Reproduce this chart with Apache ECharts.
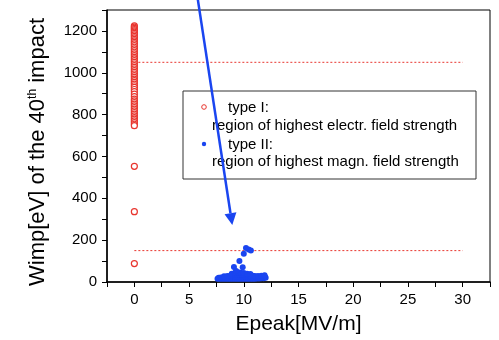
<!DOCTYPE html>
<html>
<head>
<meta charset="utf-8">
<script src="https://cdn.jsdelivr.net/npm/echarts@6/dist/echarts.min.js"></script>
<style>
  html, body { margin: 0; padding: 0; background: #fff; }
  #chart { width: 499px; height: 340px; }
</style>
</head>
<body>
<div id="chart"></div>
<script>
// type I points: all at Epeak = 0
const typeOneY = [
  1224, 1218, 1212, 1206, 1200, 1194, 1188, 1181, 1174, 1167, 1160, 1152,
  1145, 1138, 1130, 1122, 1114, 1106, 1098, 1090, 1082, 1074, 1066, 1058,
  1050, 1042, 1034, 1026, 1018, 1010, 1002, 994, 986, 978, 970, 962, 954,
  946, 938, 930, 920, 910, 898, 886, 874, 866, 858, 850, 842, 834, 826,
  818, 810, 802, 794, 786, 778, 770, 762, 754, 747,
  553, 336, 88
]
// type II points
const typeTwoX = [
  7.6, 7.8, 8.0, 8.2, 8.4, 8.6, 8.8, 9.0, 9.2, 9.4, 9.6, 9.8, 10.0, 10.2, 10.4,
  10.6, 10.8, 11.0, 11.2, 11.4, 11.6, 11.8, 12.0,
  7.7, 7.9, 8.1, 8.3, 8.5, 8.7, 8.9, 9.1, 9.3, 9.5, 9.7, 9.9, 10.1, 10.3,
  10.5, 10.7, 10.9, 11.1, 11.3, 11.5, 11.7, 11.9,
  8.2, 8.5, 8.8, 9.0, 9.2, 9.4, 9.6, 9.8, 10.0, 10.2, 10.4, 10.6, 10.8, 11.0,
  11.3, 11.6, 11.9,
  8.9, 9.2, 9.5, 9.7, 10.0, 10.3, 10.6,
  9.1, 9.3, 9.6, 9.9, 10.0, 10.2, 10.45, 10.65
]
const typeTwoY = [
  15, 15, 15, 16, 16, 16, 16, 16, 16, 16, 16, 16, 16, 16, 16,
  16, 16, 16, 17, 17, 18, 18, 20,
  20, 21, 22, 22, 23, 24, 25, 26, 26, 27, 27, 27, 27, 26,
  26, 25, 25, 25, 24, 24, 25, 27,
  27, 29, 31, 33, 35, 36, 36, 36, 35, 34, 33, 31, 30, 29,
  29, 30, 32,
  40, 44, 45, 45, 43, 40, 38,
  72, 52, 100, 70, 135, 163, 155, 151
]
const refLineUpper = 1050
const refLineLower = 150
const refLineFrom = 0
const refLineTo = 30
// arrow annotation, from above the plot down towards the type II cluster
const arrowFrom = [5.8, 1350]
const arrowTo = [8.95, 272]

const xTicks = [-2.5, 32.5, 2.5]
const yTicks = [0, 1300, 100]

const blue = '#1a45f0'
const red = '#e8352e'

const chart = echarts.init(document.getElementById('chart'))

chart.setOption({
  animation: false,
  textStyle: { fontFamily: 'Liberation Sans, Arial, sans-serif' },
  grid: {
    left: 107,
    right: 9,
    top: 10,
    bottom: 52,
    show: true,
    borderColor: '#000',
    borderWidth: 1
  },
  xAxis: {
    type: 'value',
    min: xTicks[0],
    max: xTicks[1],
    interval: xTicks[2],
    name: 'Epeak[MV/m]',
    nameLocation: 'middle',
    nameGap: 32,
    nameTextStyle: { fontSize: 21, color: '#000' },
    axisLine: { onZero: false, lineStyle: { color: '#000', width: 1.5 } },
    axisTick: { length: 5, lineStyle: { color: '#000' } },
    axisLabel: {
      fontSize: 15,
      color: '#000',
      margin: 10,
      formatter: (v) => (Math.abs(v % 5) < 1e-6 ? String(v) : '')
    },
    splitLine: { show: false }
  },
  yAxis: {
    type: 'value',
    min: yTicks[0],
    max: yTicks[1],
    interval: yTicks[2],
    name: '{a|Wimp[eV] of the 40}{s|th}{a| impact}',
    nameLocation: 'middle',
    nameGap: 58,
    nameTextStyle: {
      color: '#000',
      padding: [0, 12, 0, 0],
      rich: {
        a: { fontSize: 22, color: '#000' },
        s: { fontSize: 12, color: '#000', padding: [0, 0, 10, 0] }
      }
    },
    axisLine: { onZero: false, lineStyle: { color: '#000', width: 1.5 } },
    axisTick: { length: 5, lineStyle: { color: '#000' } },
    axisLabel: {
      fontSize: 15,
      color: '#000',
      margin: 10,
      formatter: (v) => (v % 200 === 0 && v <= 1200 ? String(v) : '')
    },
    splitLine: { show: false }
  },
  series: [
    {
      name: 'upper',
      type: 'line',
      data: [[refLineFrom, refLineUpper], [refLineTo, refLineUpper]],
      symbol: 'none',
      lineStyle: { color: red, width: 1, type: [2, 2] },
      z: 1
    },
    {
      name: 'lower',
      type: 'line',
      data: [[refLineFrom, refLineLower], [refLineTo, refLineLower]],
      symbol: 'none',
      lineStyle: { color: red, width: 1, type: [2, 2] },
      z: 1
    },
    {
      name: 'type I',
      type: 'scatter',
      data: typeOneY.map((y) => [0, y]),
      symbol: 'circle',
      symbolSize: 6,
      itemStyle: { color: '#fff', borderColor: red, borderWidth: 1.2, opacity: 1 },
      z: 3
    },
    {
      name: 'type II',
      type: 'scatter',
      data: typeTwoX.map((x, i) => [x, typeTwoY[i]]),
      symbol: 'circle',
      symbolSize: 6,
      itemStyle: { color: blue, opacity: 1 },
      z: 3
    }
  ]
})

// legend box + arrow drawn as graphics
const p0 = chart.convertToPixel({ gridIndex: 0 }, arrowFrom)
const p1 = chart.convertToPixel({ gridIndex: 0 }, arrowTo)
const ang = Math.atan2(p1[1] - p0[1], p1[0] - p0[0])
const headLen = 12
const headW = 6
const bx = p1[0] - headLen * Math.cos(ang)
const by = p1[1] - headLen * Math.sin(ang)
const nx = -Math.sin(ang)
const ny = Math.cos(ang)

const legendFont = '15px "Liberation Sans", Arial, sans-serif'

chart.setOption({
  graphic: [
    {
      type: 'rect',
      shape: { x: 183, y: 91, width: 293, height: 88 },
      style: { fill: '#fff', stroke: '#333', lineWidth: 1 },
      z: 10
    },
    {
      type: 'circle',
      shape: { cx: 204, cy: 107, r: 2.3 },
      style: { fill: '#fff', stroke: red, lineWidth: 1 },
      z: 11
    },
    {
      type: 'text',
      x: 228, y: 108,
      style: { text: 'type I:', font: legendFont, fill: '#000', verticalAlign: 'middle' },
      z: 11
    },
    {
      type: 'text',
      x: 212, y: 126,
      style: { text: 'region of highest electr. field strength', font: legendFont, fill: '#000', verticalAlign: 'middle' },
      z: 11
    },
    {
      type: 'circle',
      shape: { cx: 204, cy: 144, r: 2.2 },
      style: { fill: blue },
      z: 11
    },
    {
      type: 'text',
      x: 228, y: 145,
      style: { text: 'type II:', font: legendFont, fill: '#000', verticalAlign: 'middle' },
      z: 11
    },
    {
      type: 'text',
      x: 212, y: 162,
      style: { text: 'region of highest magn. field strength', font: legendFont, fill: '#000', verticalAlign: 'middle' },
      z: 11
    },
    {
      type: 'line',
      shape: { x1: p0[0], y1: p0[1], x2: bx, y2: by },
      style: { stroke: blue, lineWidth: 2.5 },
      z: 12
    },
    {
      type: 'polygon',
      shape: {
        points: [
          [p1[0], p1[1]],
          [bx + nx * headW, by + ny * headW],
          [bx - nx * headW, by - ny * headW]
        ]
      },
      style: { fill: blue },
      z: 12
    }
  ]
})
</script>
</body>
</html>
